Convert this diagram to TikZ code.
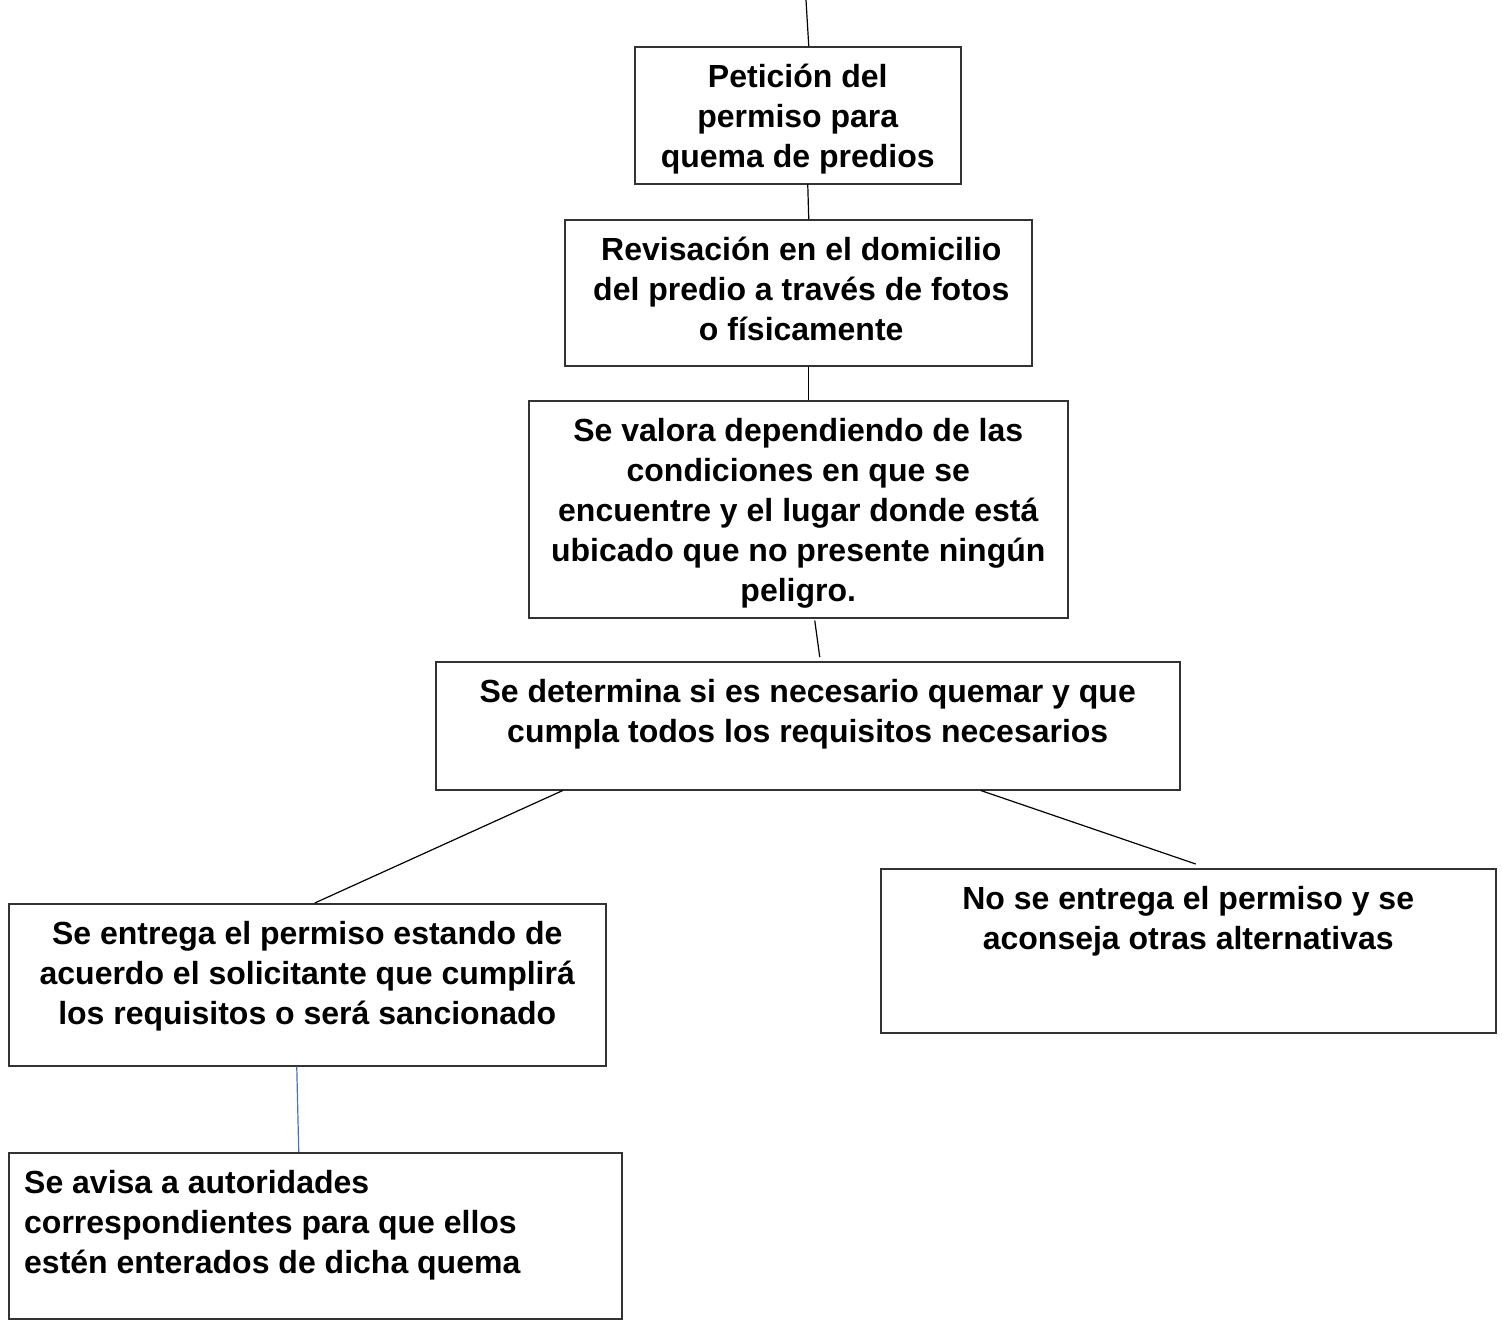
\documentclass[tikz,border=0pt]{standalone}
\usepackage{fontspec}
\setmainfont{Liberation Sans}
\usetikzlibrary{calc}
\definecolor{boxline}{HTML}{333333}
\definecolor{blueline}{HTML}{4472C4}
\tikzset{
  box/.style={draw=boxline, line width=1.5pt, inner sep=0pt, anchor=north west},
  txt/.style={inner sep=0pt, anchor=north, align=center,
    font=\fontsize{32}{40}\selectfont\bfseries},
  ltxt/.style={inner sep=0pt, anchor=north west, align=left,
    font=\fontsize{32}{40}\selectfont\bfseries},
  conn/.style={draw=black, line width=1.2pt},
  bconn/.style={draw=blueline, line width=1.2pt},
}
\begin{document}
\begin{tikzpicture}[x=1pt,y=-1pt]
\useasboundingbox (0,0) rectangle (1502,1320);
% boxes
\node[box, minimum width=326, minimum height=137] (b1) at (634,46) {};
\node[box, minimum width=467, minimum height=146] (b2) at (564,219) {};
\node[box, minimum width=539, minimum height=217] (b3) at (528,400) {};
\node[box, minimum width=744, minimum height=128] (b4) at (435,661) {};
\node[box, minimum width=597, minimum height=162] (b5) at (8,903) {};
\node[box, minimum width=615, minimum height=164] (b6) at (880,868) {};
\node[box, minimum width=613, minimum height=166] (b7) at (8,1152) {};
% texts
\node[txt] (t1) at ([yshift=-13]b1.north) {\strut Petición del\\\strut permiso para\\\strut quema de predios};
\node[txt] (t2) at ([xshift=3,yshift=-13]b2.north) {\strut Revisación en el domicilio\\\strut del predio a través de fotos\\\strut o físicamente};
\node[txt] (t3) at ([yshift=-13]b3.north) {\strut Se valora dependiendo de las\\\strut condiciones en que se\\\strut encuentre y el lugar donde está\\\strut ubicado que no presente ningún\\\strut peligro.};
\node[txt] (t4) at ([yshift=-13]b4.north) {\strut Se determina si es necesario quemar y que\\\strut cumpla todos los requisitos necesarios};
\node[txt] (t5) at ([yshift=-13]b5.north) {\strut Se entrega el permiso estando de\\\strut acuerdo el solicitante que cumplirá\\\strut los requisitos o será sancionado};
\node[txt] (t6) at ([yshift=-13]b6.north) {\strut No se entrega el permiso y se\\\strut aconseja otras alternativas};
\node[ltxt] (t7) at ([xshift=16,yshift=-13]b7.north west) {\strut Se avisa a autoridades\\\strut correspondientes para que ellos\\\strut estén enterados de dicha quema};
% connectors
\coordinate (top) at (806,0);
\draw[conn] (top) -- ([xshift=11]b1.north);
\draw[conn] ([xshift=10]b1.south) -- ([xshift=10.5]b2.north);
\draw[conn] ([xshift=10.5]b2.south) -- ([xshift=10.5]b3.north);
\draw[conn] ([xshift=16.5,yshift=-2]b3.south) -- ([xshift=12,yshift=4]b4.north);
\draw[conn] ([xshift=-245]b4.south) -- ([xshift=7.5]b5.north);
\draw[conn] ([xshift=173]b4.south) -- ([xshift=7.5,yshift=4]b6.north);
\draw[bconn] ([xshift=-10.5]b5.south) -- ([xshift=-16.5]b7.north);
\end{tikzpicture}
\end{document}
